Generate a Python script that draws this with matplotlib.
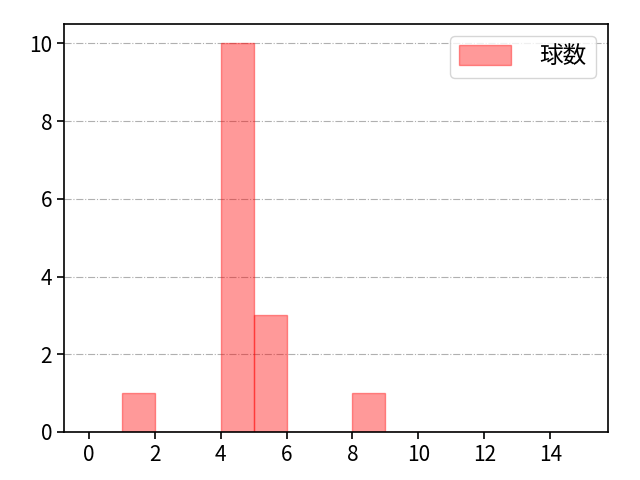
import numpy as np
import matplotlib.pyplot as plt

plt.rcParams['font.family'] = ['Noto Sans CJK JP', 'DejaVu Sans']

# 球数の分布 (幅1のビン)
bin_left = [0, 1, 2, 3, 4, 5, 6, 7, 8, 9, 10, 11, 12, 13, 14]
counts = [0, 1, 0, 0, 10, 3, 0, 0, 1, 0, 0, 0, 0, 0, 0]

fig, ax = plt.subplots(figsize=(6.4, 4.8), dpi=100)
fig.subplots_adjust(left=0.1, right=0.95, top=0.95, bottom=0.1)
ax.bar(bin_left, counts, width=1, align='edge', color='red', alpha=0.4,
       edgecolor='red', linewidth=1, label='球数')
ax.set_xticks([0, 2, 4, 6, 8, 10, 12, 14])
ax.tick_params(labelsize=15, length=5, width=1.2)
ax.grid(axis='y', linestyle='-.', color='#b0b0b0')
ax.set_axisbelow(True)
ax.legend(loc='upper right', fontsize=17, handletextpad=1.2, handlelength=2.2,
          handleheight=0.9)
for s in ax.spines.values():
    s.set_linewidth(1.2)

plt.savefig('out.png')
